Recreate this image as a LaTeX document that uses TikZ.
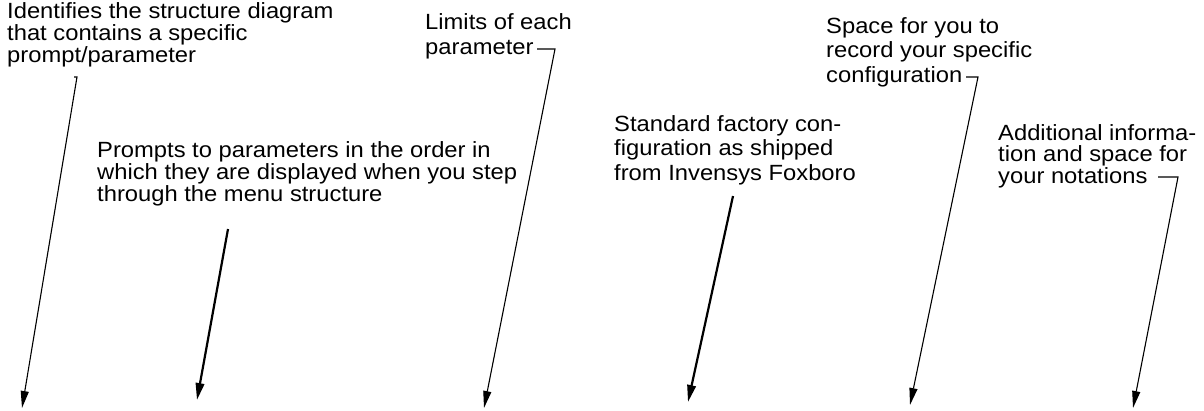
\documentclass[tikz,border=0pt]{standalone}
\usepackage{fontspec}
\setmainfont{Liberation Sans}[FakeStretch=1.08]
\usetikzlibrary{arrows.meta}
\tikzset{
  lbl/.style={anchor=base west, inner sep=0pt, align=left, text=black},
  tight/.style={font={\fontsize{22}{18.3}\selectfont}},
  loose/.style={font={\fontsize{22}{24.5}\selectfont}},
  mid/.style={font={\fontsize{22}{21.5}\selectfont}},
  thinarrow/.style={line width=1.1pt, -{Triangle[length=17pt,width=8pt]}},
  thickarrow/.style={line width=2.2pt, -{Triangle[length=17pt,width=8.5pt]}}
}
\begin{document}
\begin{tikzpicture}[x=1pt,y=-1pt]
\useasboundingbox[fill=white] (0,0) rectangle (1204,410);

% labels (anchored at the baseline of their last line)
\node[lbl,tight] (l1) at (7,62) {Identifies the structure diagram\\that contains a specific\\prompt/parameter};
\node[lbl,tight] (l2) at (97,201) {Prompts to parameters in the order in\\which they are displayed when you step\\through the menu structure};
\node[lbl,loose] (l3) at (425,54) {Limits of each\\parameter};
\node[lbl,loose] (l4) at (614,180) {Standard factory con-\\figuration as shipped\\from Invensys Foxboro};
\node[lbl,loose] (l5) at (826,82) {Space for you to\\record your specific\\configuration};
\node[lbl,mid] (l6) at (998,183) {Additional informa-\\tion and space for\\your notations};

% connector end points
\coordinate (h1) at (74,77);
\coordinate (s1) at (77,77);
\coordinate (t1) at (22,408);
\coordinate (s2) at (228,229);
\coordinate (t2) at (197,400);
\coordinate (h3) at (537,49);
\coordinate (s3) at (555,49);
\coordinate (t3) at (484,408);
\coordinate (s4) at (733,196);
\coordinate (t4) at (688,402);
\coordinate (h5) at (966,77);
\coordinate (s5) at (978,77);
\coordinate (t5) at (910,405);
\coordinate (h6) at (1158,177);
\coordinate (s6) at (1178,177);
\coordinate (t6) at (1133,408);

% connectors
\draw[thinarrow] (h1) -- (s1) -- (t1);
\draw[thickarrow] (s2) -- (t2);
\draw[thinarrow] (h3) -- (s3) -- (t3);
\draw[thickarrow] (s4) -- (t4);
\draw[thinarrow] (h5) -- (s5) -- (t5);
\draw[thinarrow] (h6) -- (s6) -- (t6);
\end{tikzpicture}
\end{document}
